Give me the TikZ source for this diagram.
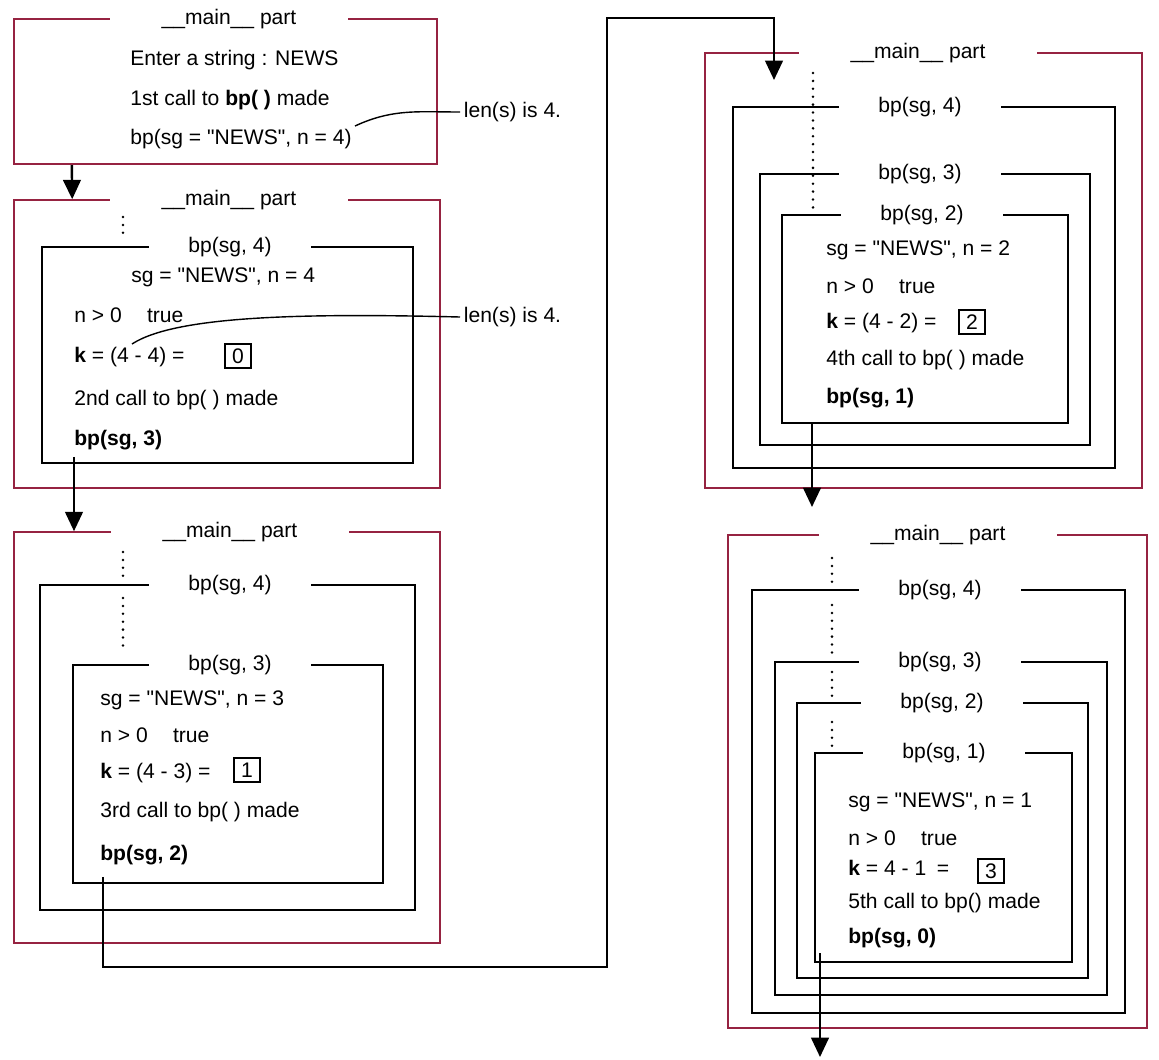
\documentclass[tikz,border=0pt]{standalone}
\usepackage{fontspec}
\setmainfont{Liberation Sans}[Ligatures=TeXOff]
\usetikzlibrary{arrows.meta,fit}
\definecolor{partred}{RGB}{150,35,65}
\begin{document}
\begin{tikzpicture}[x=0.02cm,y=-0.02cm,
  redbox/.style={draw=partred,line width=0.9pt,inner sep=0pt},
  callbox/.style={draw=black,line width=1.4pt,inner sep=0pt},
  maintitle/.style={fill=white,inner sep=0pt,minimum width=4.75cm,minimum height=0.45cm,font=\fontsize{12}{14}\selectfont},
  calltitle/.style={fill=white,inner sep=0pt,minimum width=3.25cm,minimum height=0.45cm,font=\fontsize{12}{14}\selectfont},
  txt/.style={anchor=west,inner sep=0pt,text height=1.6ex,text depth=0.45ex,font=\fontsize{12}{14}\selectfont},
  numbox/.style={draw,line width=0.9pt,inner sep=0pt,minimum width=0.52cm,minimum height=0.48cm,font=\fontsize{12}{14}\selectfont},
  lbl/.style={anchor=west,inner sep=2pt,font=\fontsize{12}{14}\selectfont},
  arr/.style={line width=1.4pt,-{Triangle[width=10pt,length=11pt]}},
  dotline/.style={line width=1.6pt,line cap=round,dash pattern=on 0pt off 4.5pt}]
\useasboundingbox (0,0) rectangle (1159,1059);

\node[redbox,line width=1.3pt,fit={(14,19) (437,164)}] (boxA) {};
\node[redbox,fit={(14,200) (440,488)}] (boxB) {};
\node[callbox,fit={(42,247) (413,463)}] (boxB1) {};
\node[redbox,fit={(14,532) (440,943)}] (boxC) {};
\node[callbox,fit={(40,585) (415,910)}] (boxC1) {};
\node[callbox,fit={(73,665) (383,883)}] (boxC2) {};
\node[redbox,fit={(705,53) (1142,488)}] (boxD) {};
\node[callbox,fit={(733,107) (1115,468)}] (boxD1) {};
\node[callbox,fit={(760,174) (1090,445)}] (boxD2) {};
\node[callbox,fit={(782,215) (1068,423)}] (boxD3) {};
\node[redbox,fit={(728,535) (1147,1028)}] (boxE) {};
\node[callbox,fit={(752,590) (1125,1013)}] (boxE1) {};
\node[callbox,fit={(775,662) (1107,995)}] (boxE2) {};
\node[callbox,line width=0.6pt,fit={(797,703) (1088,978)}] (boxE3) {};
\node[callbox,fit={(815,753) (1072,962)}] (boxE4) {};

\node[maintitle] (tA) at (229,19) {\_\_main\_\_ part};
\node[maintitle] (tB) at (229,200) {\_\_main\_\_ part};
\node[calltitle] (tB1) at (230,247) {bp(sg, 4)};
\node[maintitle] (tC) at (230,532) {\_\_main\_\_ part};
\node[calltitle] (tC1) at (230,585) {bp(sg, 4)};
\node[calltitle] (tC2) at (230,665) {bp(sg, 3)};
\node[maintitle] (tD) at (918,53) {\_\_main\_\_ part};
\node[calltitle] (tD1) at (920,107) {bp(sg, 4)};
\node[calltitle] (tD2) at (920,174) {bp(sg, 3)};
\node[calltitle] (tD3) at (922,215) {bp(sg, 2)};
\node[maintitle] (tE) at (938,535) {\_\_main\_\_ part};
\node[calltitle] (tE1) at (940,590) {bp(sg, 4)};
\node[calltitle] (tE2) at (940,662) {bp(sg, 3)};
\node[calltitle] (tE3) at (942,703) {bp(sg, 2)};
\node[calltitle] (tE4) at (944,753) {bp(sg, 1)};

\node[txt] (a1) at (130,60) {Enter a string : NEWS};
\node[txt] (a2) at (130,100) {1st call to \textbf{bp( )} made};
\node[txt] (a3) at (130,139) {bp(sg = "NEWS", n = 4)};
\node[lbl] (lenA) at (460,112) {len(s) is 4.};
\coordinate (nA) at (355,126);

\node[txt] (b1) at (131,277) {sg = "NEWS", n = 4};
\node[txt] (b2) at (74,317) {n > 0\hspace{1.2em}true};
\node[txt] (b3) at (74,357) {\textbf{k} = (4 - 4) =};
\node[numbox] (k0) at (238,356) {0};
\node[txt] (b4) at (74,400) {2nd call to bp( ) made};
\node[txt] (b5) at (74,440) {\textbf{bp(sg, 3)}};
\node[lbl] (lenB) at (460,317) {len(s) is 4.};
\coordinate (kB) at (132,344);

\node[txt] (c1) at (100,700) {sg = "NEWS", n = 3};
\node[txt] (c2) at (100,737) {n > 0\hspace{1.2em}true};
\node[txt] (c3) at (100,773) {\textbf{k} = (4 - 3) =};
\node[numbox] (k1) at (247,770) {1};
\node[txt] (c4) at (100,812) {3rd call to bp( ) made};
\node[txt] (c5) at (100,855) {\textbf{bp(sg, 2)}};

\node[txt] (d1) at (826,250) {sg = "NEWS", n = 2};
\node[txt] (d2) at (826,288) {n > 0\hspace{1.2em}true};
\node[txt] (d3) at (826,323) {\textbf{k} = (4 - 2) =};
\node[numbox] (k2) at (972,322) {2};
\node[txt] (d4) at (826,360) {4th call to bp( ) made};
\node[txt] (d5) at (826,398) {\textbf{bp(sg, 1)}};

\node[txt] (e1) at (848,802) {sg = "NEWS", n = 1};
\node[txt] (e2) at (848,840) {n > 0\hspace{1.2em}true};
\node[txt] (e3) at (848,870) {\textbf{k} = 4 - 1\enspace =};
\node[numbox] (k3) at (991,871) {3};
\node[txt] (e4) at (848,903) {5th call to bp() made};
\node[txt] (e5) at (848,938) {\textbf{bp(sg, 0)}};

\coordinate (riseCD) at (607,18);
\coordinate (inD) at (774,80);
\coordinate (inE) at (812,507);
\coordinate (outE) at (820,1057);

\draw[dotline] (123,217) -- (123,240);
\draw[dotline] (123,552) -- (123,577);
\draw[dotline] (123,598) -- (123,647);
\draw[dotline] (813,73) -- (813,210);
\draw[dotline] (832,558) -- (832,582);
\draw[dotline] (832,605) -- (832,653);
\draw[dotline] (832,672) -- (832,697);
\draw[dotline] (832,722) -- (832,747);

\draw[line width=0.8pt] (lenA.west) to[out=180,in=25] (nA);
\draw[line width=0.8pt] (lenB.west) .. controls (300,313) and (175,316) .. (kB);

\draw[arr] ([xshift=1.18cm]boxA.south west) -- ([xshift=1.18cm]boxB.north west);
\draw[arr] ([yshift=-0.14cm]b5.south west) -- (b5.south west |- boxC.north);
\draw[arr] ([xshift=0.06cm,yshift=-0.24cm]c5.south west) -- ++(0,90) -| (riseCD) -| (inD);
\draw[arr] (inE |- boxD3.south) -- (inE);
\draw[arr] ([yshift=0.2cm]outE |- boxE4.south) -- (outE);
\end{tikzpicture}
\end{document}
